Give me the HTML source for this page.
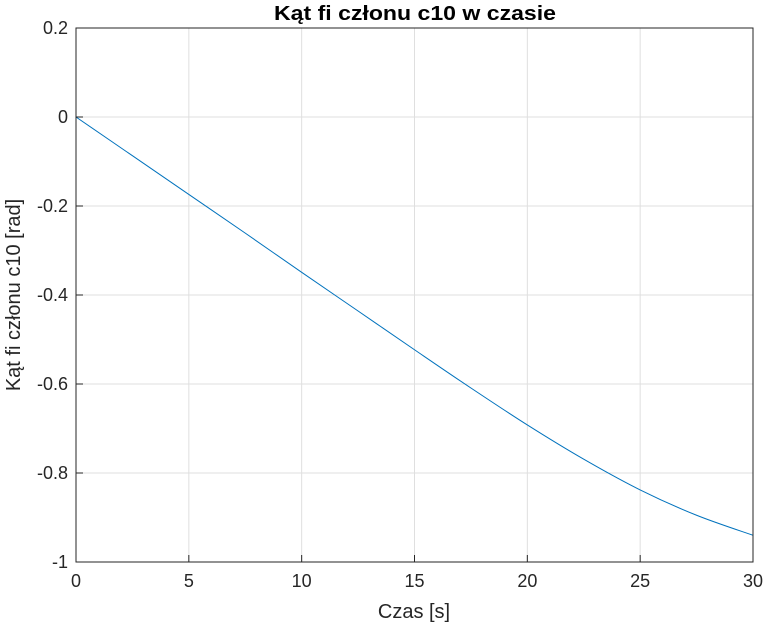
<!DOCTYPE html>
<html><head><meta charset="utf-8"><style>
body{margin:0;background:#fff;}
svg{display:block;font-family:"Liberation Sans",Arial,sans-serif;}
</style></head><body>
<svg id="chart" width="767" height="630" viewBox="0 0 767 630" xmlns="http://www.w3.org/2000/svg">
<rect width="767" height="630" fill="#fff"/>
<g id="grid"></g>
<g id="series"></g>
<rect x="76" y="28" width="677" height="534" fill="none" stroke="#262626" stroke-width="1"/>
<g id="ticks"></g>
<text x="415" y="20" text-anchor="middle" font-size="20" font-weight="bold" fill="#000" textLength="282" lengthAdjust="spacingAndGlyphs">Kąt fi członu c10 w czasie</text>
<text x="414" y="618" text-anchor="middle" font-size="20" fill="#262626">Czas [s]</text>
<text transform="translate(20,295) rotate(-90)" text-anchor="middle" font-size="20" fill="#262626">Kąt fi członu c10 [rad]</text>
</svg>
<script>
const xTicks=[0,5,10,15,20,25,30];
const yTicks=[0.2,0,-0.2,-0.4,-0.6,-0.8,-1];
const yTickLabels=["0.2","0","-0.2","-0.4","-0.6","-0.8","-1"];
const times=[0,2.5,5,7.5,10,12.5,15,17.5,20,22.5,25,27.5,30];
const angles=[0,-0.087,-0.174,-0.261,-0.349,-0.436,-0.523,-0.609,-0.692,-0.769,-0.838,-0.895,-0.94];
const L=76,R=753,T=28,B=562;
const xs=v=>L+(v-0)/(30-0)*(R-L);
const ys=v=>T+(0.2-v)/(0.2-(-1))*(B-T);
const NS="http://www.w3.org/2000/svg";
const grid=document.getElementById('grid'),ticks=document.getElementById('ticks'),series=document.getElementById('series');
function mk(tag,attrs,parent){const e=document.createElementNS(NS,tag);for(const k in attrs)e.setAttribute(k,attrs[k]);parent.appendChild(e);return e;}
xTicks.forEach(v=>{
 const x=xs(v);
 const g=mk('line',{x1:x,x2:x,y1:T,y2:B,stroke:'#dfdfdf','stroke-width':1},grid);
 
 
 const t=mk('line',{x1:x,x2:x,y1:B,y2:B-7,stroke:'#262626'},ticks);
 
 
 const l=mk('text',{x:x,y:B+25,'text-anchor':'middle','font-size':18,fill:'#262626'},ticks);
 l.textContent=String(v);
 
 
});
yTicks.forEach((v,i)=>{
 const y=ys(v);
 const g=mk('line',{x1:L,x2:R,y1:y,y2:y,stroke:'#dfdfdf','stroke-width':1},grid);
 
 
 const t=mk('line',{x1:L,x2:L+7,y1:y,y2:y,stroke:'#262626'},ticks);
 
 
 const l=mk('text',{x:L-8,y:y+6,'text-anchor':'end','font-size':18,fill:'#262626'},ticks);
 l.textContent=yTickLabels[i];
 
 
});
const P=times.map((t,i)=>[xs(t),ys(angles[i])]);
let d='M'+P[0][0]+','+P[0][1];
for(let i=0;i<P.length-1;i++){
 const p0=P[Math.max(0,i-1)],p1=P[i],p2=P[i+1],p3=P[Math.min(P.length-1,i+2)];
 const c1=[p1[0]+(p2[0]-p0[0])/6,p1[1]+(p2[1]-p0[1])/6];
 const c2=[p2[0]-(p3[0]-p1[0])/6,p2[1]-(p3[1]-p1[1])/6];
 d+=' C'+c1[0]+','+c1[1]+' '+c2[0]+','+c2[1]+' '+p2[0]+','+p2[1];
}
const pl=mk('path',{d:d,fill:'none',stroke:'#0072bd','stroke-width':1},series);


</script>
</body></html>
